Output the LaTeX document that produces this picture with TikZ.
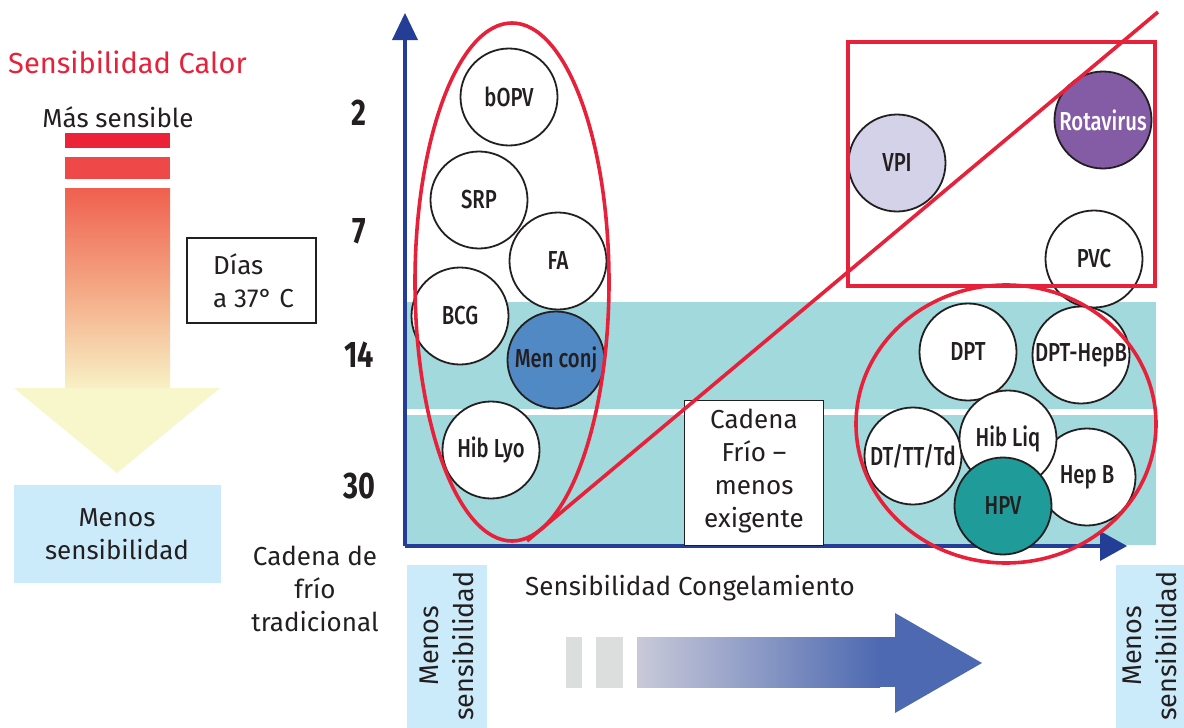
\documentclass[tikz,border=0pt]{standalone}
\usepackage{fontspec}
\usepackage{graphicx}
\setmainfont{Fira Sans}
\newfontfamily\medfont{Fira Sans Medium}
\definecolor{redc}{HTML}{E8213A}
\definecolor{bar1}{HTML}{EC2239}
\definecolor{bar2}{HTML}{EE4848}
\definecolor{warmtop}{HTML}{EF604F}
\definecolor{warmmid}{HTML}{F4A884}
\definecolor{warmbot}{HTML}{F8F1C6}
\definecolor{paley}{HTML}{F8F6CB}
\definecolor{lblue}{HTML}{CCEBFA}
\definecolor{axisb}{HTML}{243D96}
\definecolor{teal}{HTML}{A1D9DD}
\definecolor{txt}{HTML}{231F20}
\definecolor{menc}{HTML}{5089C3}
\definecolor{hpvc}{HTML}{1F9C99}
\definecolor{rotac}{HTML}{845CA6}
\definecolor{vpic}{HTML}{D4D2E8}
\definecolor{grayb}{HTML}{DCDEDE}
\definecolor{arrg}{HTML}{C9CAD9}
\definecolor{arrb}{HTML}{4D69B1}
\newcommand\cnd[1]{\scalebox{0.78}[1]{#1}}
\begin{document}
\begin{tikzpicture}[x=1pt,y=-1pt,
  vac/.style={circle, draw=txt, line width=1.8pt, minimum size=97pt, inner sep=0pt, fill=white, text=txt, font=\fontsize{26}{28}\selectfont\medfont},
  lbl/.style={text=txt, font=\fontsize{26}{33}\selectfont, align=center, inner sep=0pt},
  num/.style={text=txt, font=\fontsize{37}{40}\selectfont\bfseries, inner sep=0pt},
  redline/.style={draw=redc, line width=3.6pt}]
\useasboundingbox (0,0) rectangle (1184,728);

% ---- heat sensitivity (left) ----
\node[text=redc, font=\fontsize{29}{32}\selectfont, anchor=west, inner sep=0pt] (calor) at (8,62) {Sensibilidad Calor};
\node[lbl, anchor=center] (mas) at (118,117) {Más sensible};
\fill[bar1] (65,133) rectangle (170,148);
\fill[bar2] (65,157) rectangle (170,179);
\shade[top color=warmtop, bottom color=warmbot, middle color=warmmid] (65,188) rectangle (170,389);
\fill[paley] (14,388) -- (220,388) -- (117,473) -- cycle;
\fill[lblue] (14,485) rectangle (221,583);
\node[lbl] (menos1) at (117,534) {Menos\\sensibilidad};

\node[draw=txt, line width=1.5pt, minimum width=129pt, minimum height=85pt, inner sep=0pt] (diasbox) at (251.5,280.5) {};
\node[lbl, align=left, anchor=west] (dias) at (213,281) {Días\\a 37° C};

\node[num] (n2) at (359,113) {\cnd{2}};
\node[num] (n7) at (359,231) {\cnd{7}};
\node[num] (n14) at (359,355) {\cnd{14}};
\node[num] (n30) at (359,486) {\cnd{30}};

\node[lbl] (trad) at (315,589) {Cadena de\\frío\\tradicional};

% ---- band ----
\fill[teal] (405,302) rectangle (1156,409);
\fill[teal] (405,415) rectangle (1156,545);

% ---- axes ----
\draw[axisb, line width=3.6pt] (405,546) -- (405,36);
\fill[axisb] (392,40) -- (418,40) -- (405,13) -- cycle;
\draw[axisb, line width=3.6pt] (405,546) -- (1102,546);
\fill[axisb] (1100,531) -- (1100,561) -- (1127,546) -- cycle;

% ---- vaccines ----
\node[vac] (bopv) at (509,97) {\cnd{bOPV}};
\node[vac] (srp) at (479,200) {\cnd{SRP}};
\node[vac] (fa) at (558,261) {\cnd{FA}};
\node[vac] (bcg) at (460,316) {\cnd{BCG}};
\node[vac, fill=menc] (menc) at (556,360) {\cnd{Men conj}};
\node[vac] (hiblyo) at (491,450) {\cnd{Hib Lyo}};

\node[vac, fill=vpic] (vpi) at (897,163) {\cnd{VPI}};
\node[vac, fill=rotac, text=white] (rota) at (1103,120) {\cnd{Rotavirus}};
\node[vac] (pvc) at (1094,259) {\cnd{PVC}};

\node[vac] (dpt) at (968,352) {\cnd{DPT}};
\node[vac] (dpthepb) at (1081,355) {\cnd{DPT-HepB}};
\node[vac] (dt) at (913,456) {\cnd{DT/TT/Td}};
\node[vac] (hepb) at (1087,477) {\cnd{Hep B}};
\node[vac] (hibliq) at (1008,439) {\cnd{Hib Liq}};
\node[vac, fill=hpvc] (hpv) at (1003,506) {\cnd{HPV}};

% ---- cold chain box ----
\node[draw=txt, fill=white, line width=1.5pt, minimum width=139pt, minimum height=145pt, inner sep=0pt] (cadbox) at (754,473) {};
\node[lbl] (cad) at (754,471) {Cadena\\Frío –\\menos\\exigente};

% ---- red markings ----
\draw[redline] (512,282) ellipse [x radius=97, y radius=259];
\draw[redline] (848,42) rectangle (1155,286);
\draw[redline] (1006,424) ellipse [x radius=150, y radius=139];
\coordinate (dstart) at (527,541);
\coordinate (dend) at (1158,12);
\draw[redline] (dstart) -- (dend);

% ---- freezing sensitivity (bottom) ----
\fill[lblue] (407,565) rectangle (487,728);
\node[lbl, rotate=90, font=\fontsize{27}{35}\selectfont] (menos2) at (447,646) {Menos\\sensibilidad};
\fill[lblue] (1116,565) rectangle (1184,728);
\node[lbl, rotate=90, font=\fontsize{27}{35}\selectfont] (menos3) at (1150,646) {Menos\\sensibilidad};
\node[lbl, anchor=west] (cong) at (525,588) {Sensibilidad Congelamiento};
\fill[grayb] (566,637) rectangle (582,688);
\fill[grayb] (596,637) rectangle (623,688);
\shade[left color=arrg, right color=arrb] (637,637) rectangle (880,687);
\fill[arrb] (879,637) rectangle (896,687);
\fill[arrb] (895,613) -- (982,663) -- (895,713) -- cycle;
\end{tikzpicture}
\end{document}
